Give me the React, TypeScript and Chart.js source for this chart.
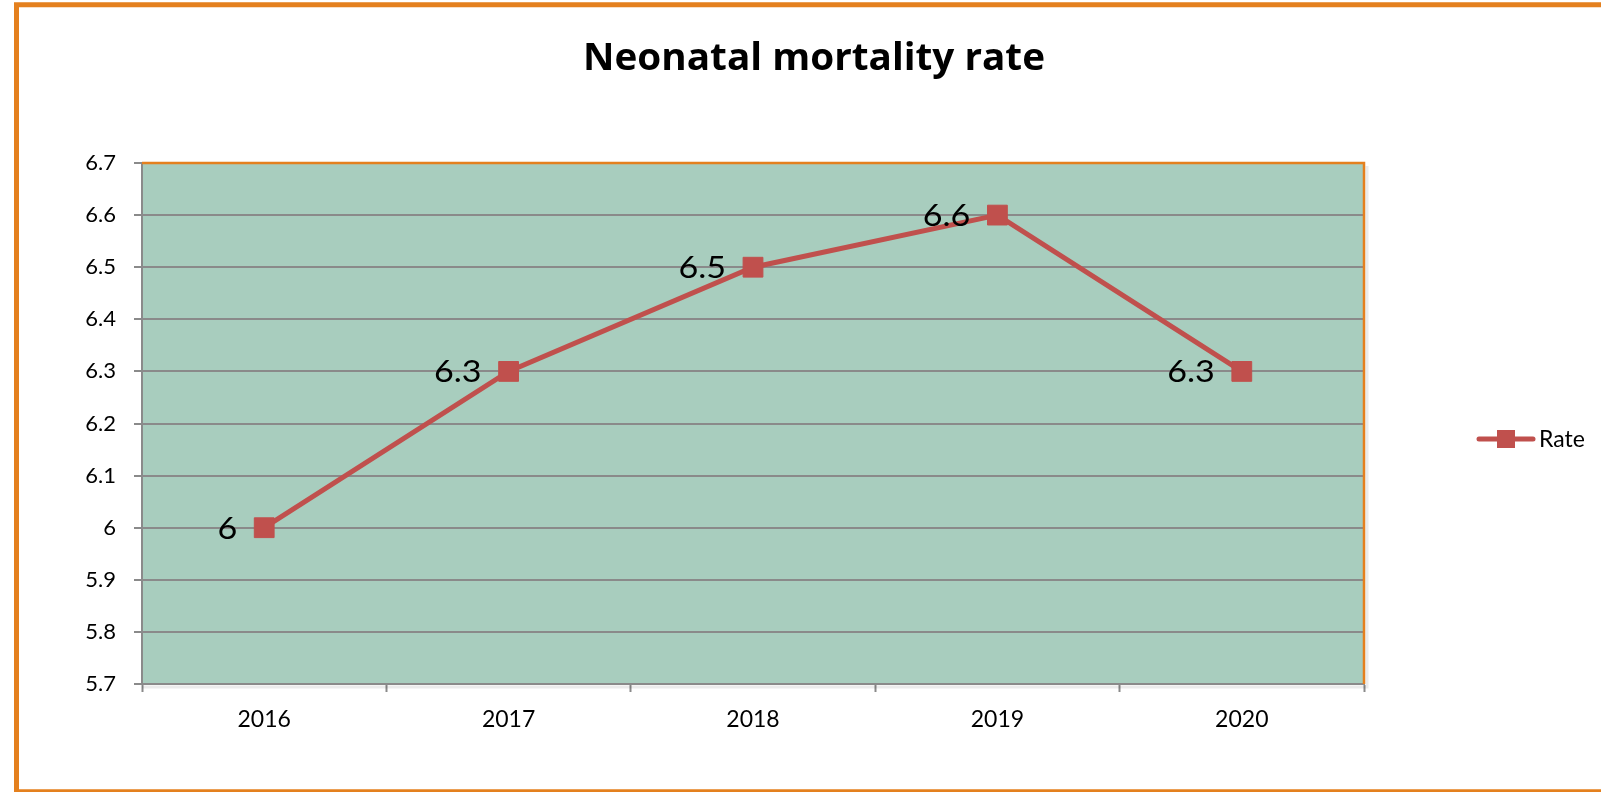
import React, { useEffect, useRef } from "react";
import { Chart, registerables } from "chart.js";

Chart.register(...registerables);

const chartTitle = "Neonatal mortality rate";
const seriesName = "Rate";
const categories = ["2016", "2017", "2018", "2019", "2020"];
const rateValues = [6.0, 6.3, 6.5, 6.6, 6.3];
const yMin = 5.7;
const yMax = 6.7;
const yStep = 0.1;

const FONT = "Lato, 'Open Sans', sans-serif";
const TITLE_FONT = "'Open Sans', Lato, sans-serif";
const ORANGE = "#E4801E";
const PLOT_BG = "#A8CDBE";
const GRID = "#8A8A8A";
const SERIES = "#C0504D";

const decorPlugin = {
  id: "decor",
  beforeDraw(chart: any) {
    const { ctx, chartArea: a, width, height } = chart;
    ctx.save();
    ctx.fillStyle = "#ffffff";
    ctx.fillRect(0, 0, width, height);
    ctx.fillStyle = PLOT_BG;
    ctx.fillRect(a.left, a.top, a.right - a.left, a.bottom - a.top);
    ctx.restore();
  },
  beforeDatasetsDraw(chart: any) {
    const { ctx, chartArea: a } = chart;
    ctx.save();
    ctx.strokeStyle = "rgba(0,0,0,0.08)";
    ctx.lineWidth = 3;
    ctx.beginPath();
    ctx.moveTo(a.left, a.bottom + 3);
    ctx.lineTo(a.right + 3, a.bottom + 3);
    ctx.lineTo(a.right + 3, a.top + 3);
    ctx.stroke();
    ctx.strokeStyle = ORANGE;
    ctx.lineWidth = 2.5;
    ctx.beginPath();
    ctx.moveTo(a.left, a.top);
    ctx.lineTo(a.right, a.top);
    ctx.lineTo(a.right, a.bottom);
    ctx.stroke();
    ctx.restore();
  },
  afterDatasetsDraw(chart: any) {
    const { ctx } = chart;
    const meta = chart.getDatasetMeta(0);
    ctx.save();
    ctx.fillStyle = "#000000";
    ctx.font = `31px ${FONT}`;
    ctx.textAlign = "right";
    ctx.textBaseline = "middle";
    meta.data.forEach((pt: any, i: number) => {
      ctx.save();
      ctx.translate(pt.x - 27, pt.y + 1);
      ctx.scale(1.1, 1);
      ctx.fillText(String(rateValues[i]), 0, 0);
      ctx.restore();
    });
    ctx.restore();
  },
  afterDraw(chart: any) {
    const { ctx, width } = chart;
    ctx.save();
    ctx.strokeStyle = ORANGE;
    ctx.lineWidth = 5;
    ctx.strokeRect(16.5, 4.75, width + 100, 787);
    ctx.fillStyle = "#000000";
    ctx.font = `bold 37px ${TITLE_FONT}`;
    ctx.textAlign = "center";
    ctx.textBaseline = "alphabetic";
    const w = ctx.measureText(chartTitle).width;
    const sx = w > 0 ? 462 / w : 1;
    ctx.save();
    ctx.translate(814, 70);
    ctx.scale(sx, 1);
    ctx.fillText(chartTitle, 0, 0);
    ctx.restore();
    const ly = 439;
    ctx.strokeStyle = SERIES;
    ctx.lineWidth = 5;
    ctx.lineCap = "round";
    ctx.beginPath();
    ctx.moveTo(1479, ly);
    ctx.lineTo(1533, ly);
    ctx.stroke();
    ctx.fillStyle = SERIES;
    ctx.fillRect(1497, ly - 9, 18, 18);
    ctx.fillStyle = "#000000";
    ctx.font = `23px ${FONT}`;
    ctx.textAlign = "left";
    ctx.textBaseline = "middle";
    ctx.fillText(seriesName, 1539, ly + 1);
    ctx.restore();
  },
};

export default function App() {
  const canvasRef = useRef<HTMLCanvasElement | null>(null);

  useEffect(() => {
    const canvas = canvasRef.current;
    if (!canvas) return;
    const chart = new Chart(canvas, {
      type: "line",
      data: {
        labels: categories,
        datasets: [
          {
            label: seriesName,
            data: rateValues,
            borderColor: SERIES,
            backgroundColor: SERIES,
            borderWidth: 5,
            tension: 0,
            pointStyle: "rect",
            pointRadius: 14,
            pointHoverRadius: 14,
            pointBackgroundColor: SERIES,
            pointBorderColor: SERIES,
            pointBorderWidth: 1,
          },
        ],
      },
      options: {
        responsive: false,
        animation: false,
        devicePixelRatio: 1,
        layout: { padding: { top: 163, right: 237, left: 0, bottom: 0 } },
        plugins: {
          legend: { display: false },
          title: { display: false },
          tooltip: { enabled: false },
        },
        scales: {
          x: {
            type: "category",
            offset: true,
            grid: {
              offset: true,
              drawOnChartArea: false,
              drawTicks: true,
              tickLength: 8,
              tickColor: GRID,
              tickWidth: 2,
            },
            border: { display: true, color: GRID, width: 2 },
            ticks: {
              color: "#000000",
              font: { family: FONT, size: 23 },
              padding: 14,
              maxRotation: 0,
            },
            afterFit: (s: any) => {
              s.height = 108;
            },
          },
          y: {
            min: yMin,
            max: yMax,
            grid: {
              color: GRID,
              lineWidth: 2,
              drawTicks: true,
              tickLength: 8,
              tickColor: GRID,
              tickWidth: 2,
            },
            border: { display: true, color: GRID, width: 2 },
            ticks: {
              stepSize: yStep,
              color: "#000000",
              font: { family: FONT, size: 22 },
              padding: 18,
              callback: (v: any) => String(Number(Number(v).toFixed(1))),
            },
            afterFit: (s: any) => {
              s.width = 142;
            },
          },
        },
      },
      plugins: [decorPlugin],
    } as any);
    return () => chart.destroy();
  }, []);

  return (
    <div style={{ position: "fixed", left: 0, top: 0, width: 1601, height: 792 }}>
      <canvas ref={canvasRef} width={1601} height={792} style={{ display: "block" }} />
    </div>
  );
}
